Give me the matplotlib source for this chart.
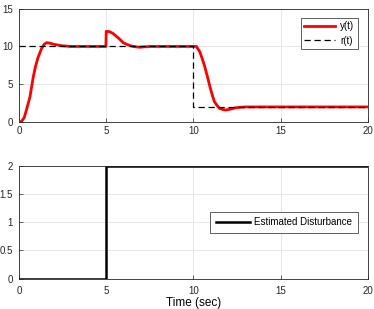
import matplotlib
matplotlib.use('Agg')
import matplotlib.pyplot as plt

plt.rcParams['font.family'] = ['Liberation Sans', 'DejaVu Sans']
plt.rcParams['font.size'] = 7

# response y(t)
t_y = [0, 0.15, 0.3, 0.45, 0.63, 0.82, 0.95, 1.1, 1.3, 1.45, 1.58, 1.75, 1.97, 2.2, 2.44, 2.7, 2.9, 3.5, 4.0, 4.5, 4.98,
       5.0, 5.2, 5.4, 5.6, 5.8, 5.97, 6.2, 6.45, 6.7, 6.93, 7.2, 7.5, 8.5, 9.5, 10.0, 10.17,
       10.36, 10.5, 10.65, 10.8, 10.94, 11.1, 11.2, 11.35, 11.5, 11.7, 11.85, 12.0, 12.2, 12.4, 12.65, 13.0, 15.0, 17.5, 20.0]
y_t = [0, 0.1, 0.6, 1.8, 3.35, 6.0, 7.4, 8.6, 9.75, 10.3, 10.5, 10.45, 10.3, 10.2, 10.1, 10.05, 10.0, 10.0, 10.0, 10.0, 10.0,
       12.0, 11.95, 11.7, 11.3, 10.9, 10.5, 10.25, 10.05, 9.95, 9.9, 9.95, 10.0, 10.0, 10.0, 10.0, 10.0,
       9.3, 8.4, 7.3, 6.0, 4.7, 3.4, 2.7, 2.2, 1.8, 1.65, 1.6, 1.65, 1.76, 1.88, 1.95, 2.0, 2.0, 2.0, 2.0]

# reference r(t)
t_r = [0, 10, 10, 20]
r_t = [10, 10, 2, 2]

# estimated disturbance
t_d = [0, 5, 5, 20]
d_t = [0, 0, 2, 2]

fig = plt.figure(figsize=(3.74, 3.09), dpi=100)
ax1 = fig.add_axes([0.0508, 0.605, 0.933, 0.367])
ax2 = fig.add_axes([0.0508, 0.098, 0.933, 0.366])

ax1.plot(t_y, y_t, color='#ff0000', lw=2, label='y(t)', zorder=3)
ax1.plot(t_r, r_t, color='k', lw=0.9, ls=(0, (5, 3)), label='r(t)', zorder=4)
ax1.set_xlim(0, 20)
ax1.set_ylim(0, 15)
ax1.set_xticks([0, 5, 10, 15, 20])
ax1.set_yticks([0, 5, 10, 15])
leg1 = ax1.legend(loc='upper right', bbox_to_anchor=(0.971, 0.918), fancybox=False, edgecolor='#444444',
                  framealpha=1, borderpad=0.35, handlelength=3.2, handletextpad=0.5, labelspacing=0.45,
                  borderaxespad=0, fontsize=7)
leg1.get_frame().set_linewidth(0.6)

ax2.plot(t_d, d_t, color='k', lw=1.8, label='Estimated Disturbance')
ax2.set_xlim(0, 20)
ax2.set_ylim(0, 2)
ax2.set_xticks([0, 5, 10, 15, 20])
ax2.set_yticks([0, 0.5, 1, 1.5, 2])
ax2.set_yticklabels(['0', '0.5', '1', '1.5', '2'])
ax2.set_xlabel('Time (sec)', fontsize=8.5, labelpad=1)
leg2 = ax2.legend(loc='center right', bbox_to_anchor=(0.971, 0.5), fancybox=False, edgecolor='#444444',
                  framealpha=1, borderpad=0.55, handlelength=3.5, handletextpad=0.5, borderaxespad=0,
                  fontsize=7)
leg2.get_frame().set_linewidth(0.6)

for ax in (ax1, ax2):
    ax.grid(True, color='#e3e3e3', lw=0.6)
    ax.set_axisbelow(True)
    ax.tick_params(direction='in', length=3, width=0.5, colors='#262626', labelsize=7)
    ax.tick_params(axis='y', pad=4.5)
    for s in ax.spines.values():
        s.set_linewidth(0.6)
        s.set_color('#262626')
ax1.tick_params(axis='x', pad=2.5)
ax2.tick_params(axis='x', pad=5)

fig.savefig('out.png', dpi=100)
